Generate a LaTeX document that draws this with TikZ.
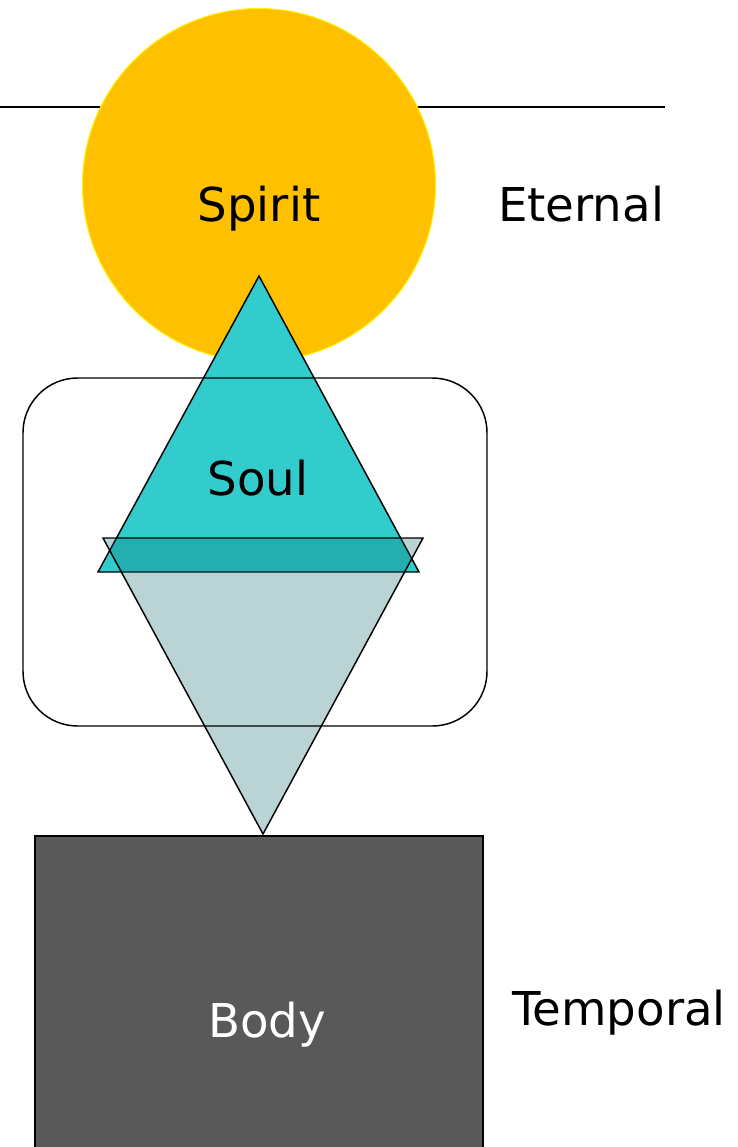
\documentclass[tikz,border=0pt]{standalone}
\usepackage{fontspec}
\setmainfont{DejaVu Sans}
\usepackage{pgf,tikz}
\usetikzlibrary{arrows}
\definecolor{spiritgold}{RGB}{255,192,0}
\definecolor{soulteal}{RGB}{51,204,204}
\definecolor{lowteal}{RGB}{0,96,100}
\definecolor{bodygray}{RGB}{89,89,89}
\tikzset{label/.style={anchor=base,inner sep=0pt,font=\fontsize{35}{42}\selectfont}}

\begin{document}
\begin{tikzpicture}[x=0.75pt,y=-0.75pt,line width=1.1pt,line join=miter]
\useasboundingbox (0,0) rectangle (738,1147);
\draw (0,107) -- (665,107);
\draw [fill=spiritgold,draw=yellow,line width=0.8pt] (259,185) circle (176.5);
\draw [fill=soulteal] (259,276) -- (419,572) -- (98,572) -- cycle;
\draw [fill=lowteal,fill opacity=0.27] (103,538) -- (423,538) -- (263,834) -- cycle;
\draw [rounded corners=41pt] (23,378) rectangle (487,726);
\draw [fill=bodygray] (35,836) rectangle (483,1152);
\node [label] (spirit) at (259,221) {Spirit};
\node [label] (eternal) at (581,221) {Eternal};
\node [label] (soul) at (258,495) {Soul};
\node [label,text=white] (body) at (267,1037) {Body};
\node [label] (temporal) at (619,1025) {Temporal};
\end{tikzpicture}
\end{document}
